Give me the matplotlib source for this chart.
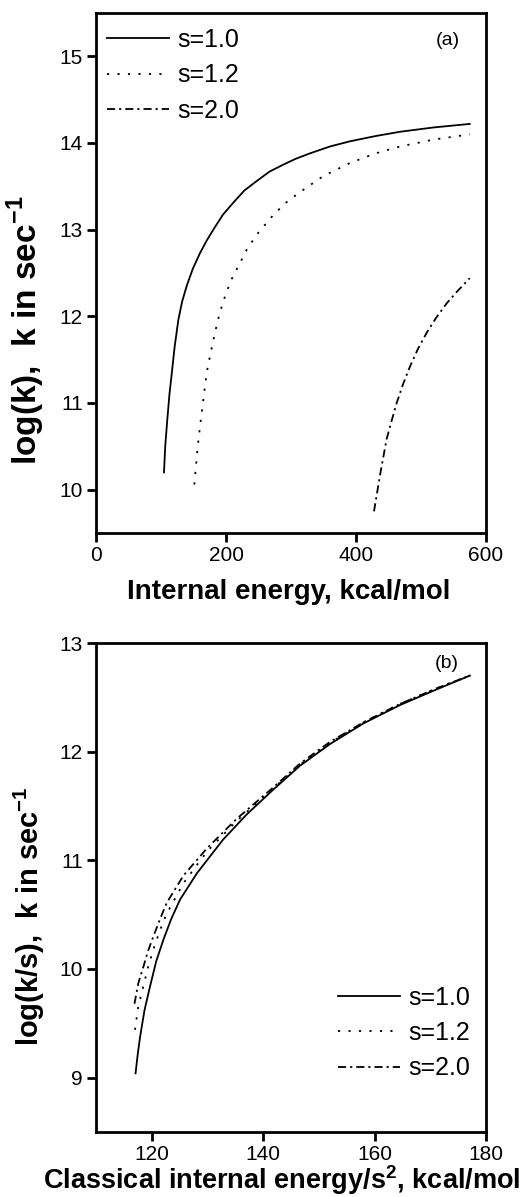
import matplotlib
matplotlib.use("Agg")
import matplotlib.pyplot as plt

plt.rcParams['font.family'] = ['Liberation Sans', 'DejaVu Sans']
plt.rcParams['mathtext.fontset'] = 'custom'
plt.rcParams['mathtext.rm'] = 'Liberation Sans'
plt.rcParams['mathtext.bf'] = 'Liberation Sans:bold'

# ---- Panel (a) data ----
a_x_s10 = [104.6, 106.5, 109.7, 113.0, 116.4, 121.0, 126.7, 132.5, 139.5, 149.0, 160.0, 170.0, 180.5, 195.0, 211.0, 228.0, 247.0, 267.0, 288.0, 308.0, 329.0, 360.0, 391.0, 430.0, 468.0, 520.0, 575.0]
a_y_s10 = [10.20, 10.50, 10.81, 11.10, 11.33, 11.65, 11.96, 12.17, 12.35, 12.55, 12.73, 12.87, 13.00, 13.17, 13.31, 13.45, 13.56, 13.67, 13.75, 13.82, 13.88, 13.96, 14.02, 14.08, 14.13, 14.18, 14.22]
a_x_s12 = [151.3, 156.5, 162.6, 170.3, 177.0, 183.0, 190.0, 198.5, 208.0, 219.0, 232.0, 247.0, 272.8, 295.0, 319.0, 350.0, 391.0, 430.0, 468.0, 520.0, 575.0]
a_y_s12 = [10.06, 10.50, 10.89, 11.35, 11.60, 11.81, 12.03, 12.23, 12.42, 12.58, 12.77, 12.94, 13.17, 13.33, 13.46, 13.62, 13.77, 13.88, 13.96, 14.04, 14.10]
a_x_s20 = [427.7, 437.0, 447.0, 455.0, 462.6, 472.0, 483.0, 495.0, 508.7, 523.0, 539.5, 556.0, 575.0]
a_y_s20 = [9.75, 10.17, 10.58, 10.80, 11.00, 11.21, 11.42, 11.62, 11.81, 11.98, 12.15, 12.29, 12.44]

# ---- Panel (b) data ----
b_x_s10 = [117.1, 117.5, 117.9, 118.7, 119.7, 120.8, 122.1, 123.5, 125.1, 128.1, 132.8, 137.0, 141.8, 146.6, 152.0, 158.0, 164.6, 171.0, 177.1]
b_y_s10 = [9.04, 9.22, 9.37, 9.62, 9.84, 10.07, 10.27, 10.46, 10.64, 10.88, 11.19, 11.42, 11.65, 11.87, 12.07, 12.26, 12.43, 12.57, 12.70]
b_x_s12 = [117.0, 117.6, 118.5, 119.3, 120.3, 121.5, 122.7, 125.7, 129.9, 135.2, 141.8, 146.6, 152.0, 158.0, 164.6, 171.0, 177.1]
b_y_s12 = [9.44, 9.66, 9.84, 10.01, 10.18, 10.36, 10.51, 10.79, 11.08, 11.36, 11.66, 11.88, 12.08, 12.27, 12.44, 12.58, 12.70]
b_x_s20 = [116.9, 117.6, 118.5, 119.3, 120.3, 121.5, 122.7, 125.7, 129.9, 135.2, 141.8, 146.6, 152.0, 158.0, 164.6, 171.0, 177.1]
b_y_s20 = [9.68, 9.87, 10.02, 10.16, 10.30, 10.46, 10.61, 10.86, 11.11, 11.38, 11.67, 11.89, 12.09, 12.27, 12.44, 12.58, 12.70]

labels = ['s=1.0', 's=1.2', 's=2.0']
a_xticks = [0, 200, 400, 600]
a_yticks = [10, 11, 12, 13, 14, 15]
b_xticks = [120, 140, 160, 180]
b_yticks = [9, 10, 11, 12, 13]

W, H = 523, 1197
fig = plt.figure(figsize=(W / 100, H / 100), dpi=100)

def box(l, t, r, b):
    return [l / W, 1 - b / H, (r - l) / W, (b - t) / H]

ax1 = fig.add_axes(box(96, 13, 486, 533))
ax2 = fig.add_axes(box(96, 643, 486, 1132))

styles = ['-', (0, (1.2, 4.6)), (0, (4.5, 2.2, 1.2, 2.2))]
lw = 1.3

for ax in (ax1, ax2):
    for sp in ax.spines.values():
        sp.set_linewidth(2.0)
    ax.tick_params(axis='both', which='major', direction='out', length=6.5, width=2.0,
                   labelsize=15, pad=3, top=False, right=False)

leg_kw = dict(frameon=False, fontsize=18, handlelength=2.5, handletextpad=0.32,
              labelspacing=0.45, borderpad=0, borderaxespad=0)

ax1.plot(a_x_s10, a_y_s10, color='black', lw=lw, ls=styles[0], label=labels[0])
ax1.plot(a_x_s12, a_y_s12, color='black', lw=lw, ls=styles[1], label=labels[1])
ax1.plot(a_x_s20, a_y_s20, color='black', lw=lw, ls=styles[2], label=labels[2])
ax1.set_xlim(0, 600)
ax1.set_ylim(9.5, 15.5)
ax1.set_xticks(a_xticks)
ax1.set_yticks(a_yticks)
ax1.set_xlabel('Internal energy, kcal/mol', fontsize=20, fontweight='bold')
ax1.xaxis.set_label_coords(0.495, -0.088)
ax1.set_ylabel(r'log(k),  k in sec$^{\mathbf{-1}}$', fontsize=24, fontweight='bold')
ax1.yaxis.set_label_coords(-0.125, 0.39)
ax1.text(0.903, 0.948, '(a)', transform=ax1.transAxes, fontsize=14, ha='center', va='center')
ax1.legend(loc='upper left', bbox_to_anchor=(0.028, 0.971), **leg_kw)

ax2.plot(b_x_s10, b_y_s10, color='black', lw=lw, ls=styles[0], label=labels[0])
ax2.plot(b_x_s12, b_y_s12, color='black', lw=lw, ls=styles[1], label=labels[1])
ax2.plot(b_x_s20, b_y_s20, color='black', lw=lw, ls=styles[2], label=labels[2])
ax2.set_xlim(110, 180)
ax2.set_ylim(8.5, 13)
ax2.set_xticks(b_xticks)
ax2.set_yticks(b_yticks)
ax2.set_xlabel(r'Classical internal energy/s$^{\mathbf{2}}$, kcal/mol', fontsize=19.5, fontweight='bold')
ax2.xaxis.set_label_coords(0.477, -0.063)
ax2.set_ylabel(r'log(k/s),  k in sec$^{\mathbf{-1}}$', fontsize=21, fontweight='bold')
ax2.yaxis.set_label_coords(-0.125, 0.442)
ax2.text(0.90, 0.959, '(b)', transform=ax2.transAxes, fontsize=14, ha='center', va='center')
ax2.legend(loc='upper left', bbox_to_anchor=(0.62, 0.2986), **leg_kw)

fig.savefig('out.png', dpi=100)
